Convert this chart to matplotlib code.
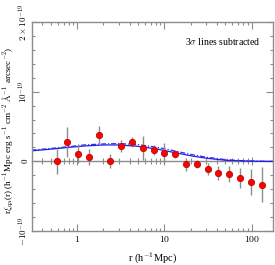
import numpy as np
import matplotlib
matplotlib.use("Agg")
import matplotlib.pyplot as plt
from matplotlib.ticker import LogLocator, NullFormatter, MultipleLocator

plt.rcParams['font.family'] = ['Liberation Serif', 'DejaVu Serif']
plt.rcParams['mathtext.fontset'] = 'cm'

# measured points (r in h^-1 Mpc, values in units of 1e-19)
r_pts = [0.59, 0.77, 1.03, 1.36, 1.80, 2.40, 3.18, 4.22, 5.68, 7.53,
         9.95, 13.3, 17.6, 23.3, 31.2, 41.6, 55.0, 73.5, 98.0, 130.0]
xi_pts = [0.0, 0.277, 0.109, 0.066, 0.373, 0.01, 0.22, 0.277, 0.19, 0.158,
          0.123, 0.105, -0.043, -0.034, -0.115, -0.172, -0.182, -0.244, -0.293, -0.336]
err_pts = [0.18, 0.21, 0.14, 0.115, 0.13, 0.1, 0.09, 0.07, 0.17, 0.07,
           0.14, 0.05, 0.09, 0.055, 0.085, 0.1, 0.12, 0.145, 0.19, 0.25]

# model curves
r_mod = [0.3, 0.5, 0.8, 1.2, 2.0, 3.0, 5.0, 8.0, 12.0, 20.0, 30.0, 50.0, 80.0, 120.0, 175.0]
xi_solid = [0.15, 0.175, 0.20, 0.22, 0.235, 0.235, 0.215, 0.18, 0.135, 0.08,
            0.045, 0.015, 0.005, 0.0, -0.002]
xi_dash = [0.16, 0.185, 0.21, 0.235, 0.25, 0.255, 0.24, 0.205, 0.16, 0.1,
           0.06, 0.025, 0.008, 0.002, 0.0]

scale = 1e-19
ymin, ymax = -1e-19, 2e-19
yticks = [-1e-19, 0, 1e-19, 2e-19]
ytick_labels = [r'$-10^{-19}$', r'$0$', r'$10^{-19}$', r'$2\times10^{-19}$']

grey = '#8c8c8c'

fig = plt.figure(figsize=(2.75, 2.65), dpi=100)
ax = fig.add_axes([32/275, 34/265, 241/275, 209/265])

ax.plot(r_mod, np.array(xi_dash)*scale, color='#3030ff', lw=0.9, ls=(0, (4, 1.5, 1, 1.5)), zorder=2)
ax.plot(r_mod, np.array(xi_solid)*scale, color='#2020e0', lw=0.9, zorder=2)
ax.errorbar(r_pts, np.array(xi_pts)*scale, yerr=np.array(err_pts)*scale, fmt='o',
            color='red', mec='#b00000', mew=0.5, ms=4.6, ecolor=grey, elinewidth=1.0,
            capsize=0, zorder=3)

ax.set_xscale('log')
ax.set_xlim(0.305, 175)
ax.set_ylim(ymin, ymax)

ax.set_xticks([1, 10, 100])
ax.set_xticklabels([r'$1$', r'$10$', r'$100$'])
ax.xaxis.set_minor_locator(LogLocator(base=10, subs=np.arange(2, 10)))
ax.xaxis.set_minor_formatter(NullFormatter())
ax.set_yticks(yticks)
ax.set_yticklabels(ytick_labels, rotation=90, va='center')
ax.yaxis.set_minor_locator(MultipleLocator(0.2e-19))

ax.tick_params(which='both', direction='in', top=True, right=True, color=grey,
               labelsize=7, pad=2)
ax.tick_params(axis='y', labelsize=6.5, pad=1.5)
ax.tick_params(which='major', length=5, width=0.8)
ax.tick_params(which='minor', length=2.5, width=0.8)
for s in ax.spines.values():
    s.set_color(grey)
    s.set_linewidth(1.0)

# zero line with ticks
zero_loc = (0 - ymin) / (ymax - ymin)
sec = ax.secondary_xaxis(zero_loc)
sec.spines['bottom'].set_color(grey)
sec.spines['bottom'].set_linewidth(1.0)
sec.set_xticks([1, 10, 100])
sec.set_xticklabels([])
sec.xaxis.set_minor_locator(LogLocator(base=10, subs=np.arange(2, 10)))
sec.xaxis.set_minor_formatter(NullFormatter())
sec.tick_params(which='both', direction='inout', color=grey, width=0.8)
sec.tick_params(which='major', length=6)
sec.tick_params(which='minor', length=5)

ax.text(0.95, 0.905, r'3$\sigma$ lines subtracted', transform=ax.transAxes,
        ha='right', va='center', fontsize=7)
ax.set_xlabel(r'r (h$^{-1}$Mpc)', fontsize=7.5, labelpad=5)
fig.text(8/275, 0.51,
         r'r$\xi_{\rm qa}$(r) (h$^{-1}$Mpc erg s$^{-1}$ cm$^{-2}$ $\rm\AA^{-1}$ arcsec$^{-2}$)',
         rotation=90, ha='center', va='center', fontsize=6.6)

fig.savefig('out.png', dpi=100)
